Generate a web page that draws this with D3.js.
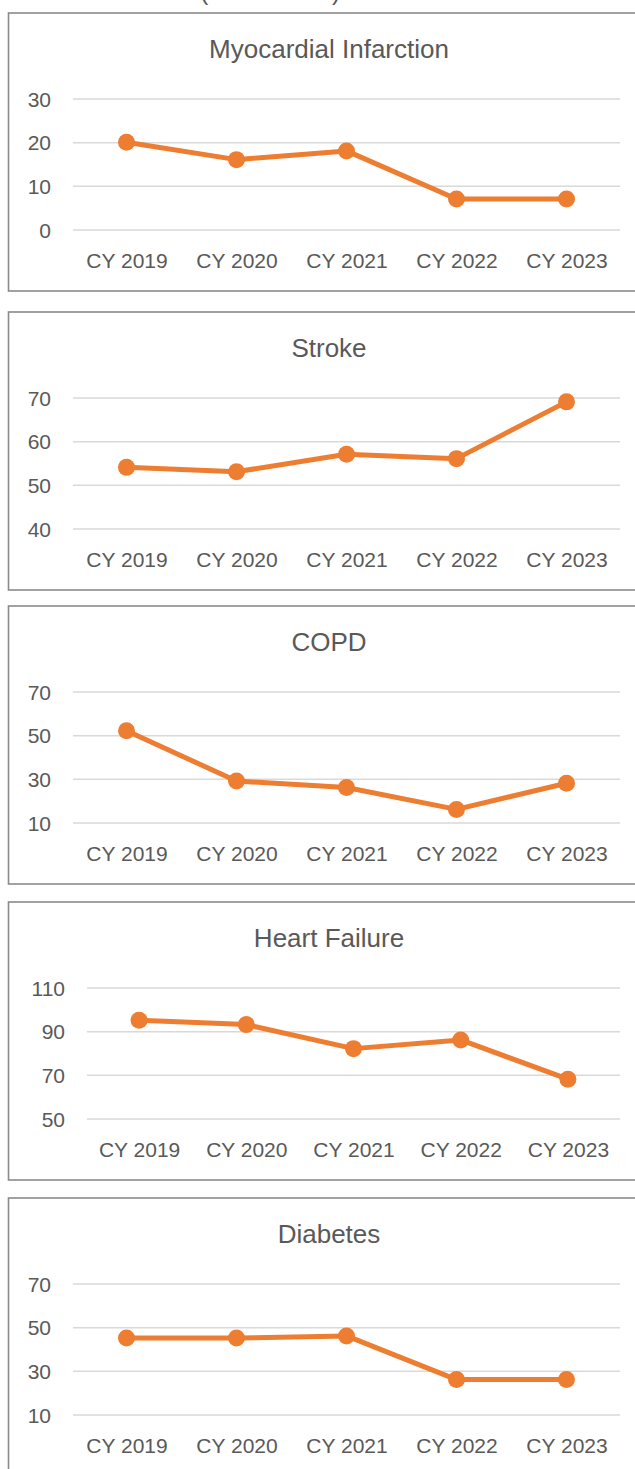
<!DOCTYPE html>
<html>
<head>
<meta charset="utf-8">
<script src="https://cdn.jsdelivr.net/npm/d3@7"></script>
<style>
  html, body { margin: 0; padding: 0; background: #ffffff; }
  svg { display: block; }
  text { font-family: "Liberation Sans", Arial, sans-serif; fill: #595959; }
</style>
</head>
<body>
<svg id="chart" width="635" height="1469"></svg>
<script>
// ---- data ----
const categories = ["CY 2019", "CY 2020", "CY 2021", "CY 2022", "CY 2023"];
const titles = ["Myocardial Infarction", "Stroke", "COPD", "Heart Failure", "Diabetes"];
const miValues = [20, 16, 18, 7, 7];
const strokeValues = [54, 53, 57, 56, 69];
const copdValues = [52, 29, 26, 16, 28];
const hfValues = [95, 93, 82, 86, 68];
const diabetesValues = [45, 45, 46, 26, 26];
const miTicks = [0, 10, 20, 30];
const strokeTicks = [40, 50, 60, 70];
const copdTicks = [10, 30, 50, 70];
const hfTicks = [50, 70, 90, 110];
const diabetesTicks = [10, 30, 50, 70];

const seriesValues = [miValues, strokeValues, copdValues, hfValues, diabetesValues];
const seriesTicks = [miTicks, strokeTicks, copdTicks, hfTicks, diabetesTicks];

// ---- layout ----
const panelTops = [13, 312, 606, 902, 1198];
const panelHeight = 278;
const orange = "#ED7D31";
const svg = d3.select("#chart");

// partially visible header text (cut off at the top of the picture, as in the reference)
svg.append("text").attr("x", 200).attr("y", 0).attr("font-size", 25).text("(");
svg.append("text").attr("x", 332).attr("y", 0).attr("font-size", 25).text(")");

seriesValues.forEach((vals, i) => {
  const top = panelTops[i];
  const ticks = seriesTicks[i];
  const g = svg.append("g");

  // panel frame (right edge runs off the picture)
  g.append("rect")
    .attr("x", 8.5).attr("y", top)
    .attr("width", 700).attr("height", panelHeight)
    .attr("fill", "none").attr("stroke", "#8a8a8a").attr("stroke-width", 1.6);

  // title
  g.append("text")
    .attr("x", 329).attr("y", top + 45)
    .attr("text-anchor", "middle").attr("font-size", 26)
    .text(titles[i]);

  const wideLabels = d3.max(ticks) >= 100;
  const gridLeft = wideLabels ? 87 : 73;
  const gridRight = 620;
  const gridTop = top + 85.5, gridBottom = top + 216.5;

  const y = d3.scaleLinear().domain(d3.extent(ticks)).range([gridBottom, gridTop]);
  const x = d3.scalePoint().domain(categories).range([gridLeft - 1.5, gridRight + 1.5]).padding(0.5);

  // y axis with gridlines
  const yAxis = g.append("g")
    .attr("transform", `translate(${gridLeft},0)`)
    .call(d3.axisLeft(y).tickValues(ticks).tickSize(-(gridRight - gridLeft)).tickPadding(22).tickFormat(d3.format("d")));
  yAxis.select(".domain").remove();
  yAxis.selectAll(".tick line").attr("stroke", "#d9d9d9").attr("stroke-width", 1.5);
  yAxis.selectAll(".tick text")
    .attr("font-size", 21).attr("font-family", "Liberation Sans, Arial, sans-serif")
    .attr("fill", "#595959").attr("dy", "0.36em");

  // x axis labels
  const xAxis = g.append("g")
    .attr("transform", `translate(0,${top + 255})`)
    .call(d3.axisBottom(x).tickSize(0));
  xAxis.select(".domain").remove();
  xAxis.selectAll(".tick text")
    .attr("y", 0).attr("dy", 0)
    .attr("font-size", 21).attr("font-family", "Liberation Sans, Arial, sans-serif")
    .attr("fill", "#595959");

  // line
  const line = d3.line().x((d, j) => x(categories[j])).y(d => y(d));
  g.append("path")
    .datum(vals)
    .attr("d", line)
    .attr("fill", "none").attr("stroke", orange)
    .attr("stroke-width", 5).attr("stroke-linejoin", "round").attr("stroke-linecap", "round");

  // markers
  g.selectAll("circle.pt")
    .data(vals)
    .enter().append("circle")
    .attr("class", "pt")
    .attr("cx", (d, j) => x(categories[j]))
    .attr("cy", d => y(d))
    .attr("r", 8.5)
    .attr("fill", orange);
});
</script>
</body>
</html>
